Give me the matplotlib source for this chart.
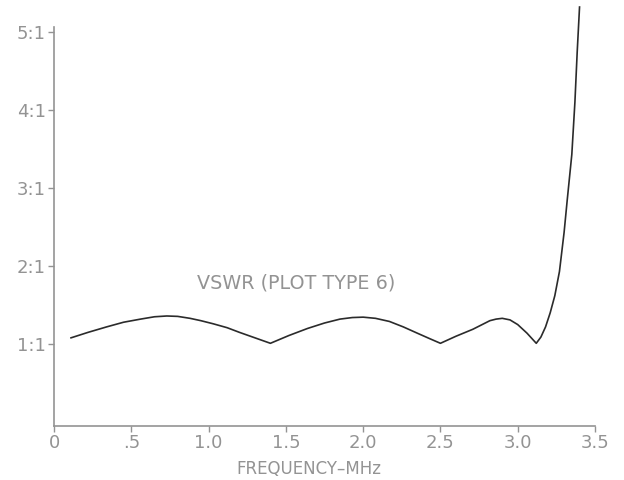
import matplotlib
matplotlib.use("Agg")
import matplotlib.pyplot as plt

# values
freq_mhz = [0.11, 0.22, 0.34, 0.45, 0.56, 0.65, 0.73, 0.80, 0.88, 0.95,
            1.03, 1.12, 1.20, 1.30, 1.40,
            1.52, 1.64, 1.75, 1.85, 1.93, 2.00, 2.08, 2.17, 2.26, 2.35,
            2.43, 2.50,
            2.60, 2.71, 2.82, 2.86, 2.90, 2.95, 3.00, 3.06, 3.12,
            3.15, 3.18, 3.21, 3.24, 3.27, 3.30, 3.32, 3.35, 3.37, 3.385,
            3.40]
vswr = [1.08, 1.15, 1.22, 1.28, 1.32, 1.35, 1.36, 1.355, 1.33, 1.30,
        1.26, 1.21, 1.15, 1.08, 1.01,
        1.11, 1.20, 1.27, 1.32, 1.34, 1.345, 1.33, 1.29, 1.22, 1.14,
        1.07, 1.01,
        1.10, 1.19, 1.30, 1.32, 1.33, 1.31, 1.25, 1.14, 1.01,
        1.09, 1.22, 1.40, 1.62, 1.93, 2.43, 2.84, 3.43, 4.10, 4.75,
        5.32]

x_ticks = [0, 0.5, 1.0, 1.5, 2.0, 2.5, 3.0, 3.5]
x_tick_labels = ["0", ".5", "1.0", "1.5", "2.0", "2.5", "3.0", "3.5"]
y_ticks = [1, 2, 3, 4, 5]
y_tick_labels = ["1:1", "2:1", "3:1", "4:1", "5:1"]

GRAY = "#939393"
plt.rcParams["font.family"] = ["DejaVu Sans"]

fig = plt.figure(figsize=(6.24, 4.8), dpi=100)
ax = fig.add_axes([54 / 624, 54 / 480, 541 / 624, 426 / 480])

ax.plot(freq_mhz, vswr, color="#2b2b2b", linewidth=1.2, clip_on=False)

ax.set_xlim(0, 3.5)
ax.set_ylim(-0.05, 5.41)

ax.set_xticks(x_ticks, x_tick_labels)
ax.set_yticks(y_ticks, y_tick_labels)
ax.tick_params(axis="both", colors=GRAY, labelcolor=GRAY, labelsize=13,
               length=4, width=1.0, direction="out", pad=2)

for side in ("top", "right"):
    ax.spines[side].set_visible(False)
for side in ("left", "bottom"):
    ax.spines[side].set_color(GRAY)
    ax.spines[side].set_linewidth(1.2)
ax.spines["left"].set_bounds(-0.05, 5.06)

ax.set_xlabel("FREQUENCY\u2013MHz", color=GRAY, fontsize=12)
ax.xaxis.set_label_coords((309 - 54) / 541, -0.08)

ax.text(1.57, 1.78, "VSWR (PLOT TYPE 6)", color=GRAY, fontsize=13.8,
        ha="center", va="center")

fig.savefig("out.png", dpi=100, facecolor="white")
